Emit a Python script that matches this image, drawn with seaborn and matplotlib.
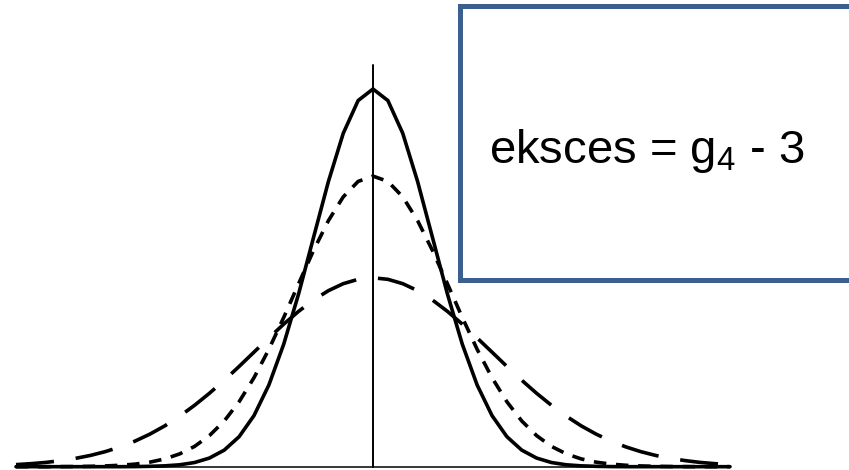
import matplotlib
matplotlib.use("Agg")
import matplotlib.pyplot as plt
from matplotlib.patches import Rectangle
import pandas as pd
import seaborn as sns

# Density values of three symmetric distributions on a common grid
x_grid = [-6.0, -5.75, -5.5, -5.25, -5.0, -4.75, -4.5, -4.25, -4.0, -3.75, -3.5, -3.25,
          -3.0, -2.75, -2.5, -2.25, -2.0, -1.75, -1.5, -1.25, -1.0, -0.75, -0.5, -0.25,
          0.0, 0.25, 0.5, 0.75, 1.0, 1.25, 1.5, 1.75, 2.0, 2.25, 2.5, 2.75,
          3.0, 3.25, 3.5, 3.75, 4.0, 4.25, 4.5, 4.75, 5.0, 5.25, 5.5, 5.75, 6.0]

peaked = [0.0, 0.0, 0.0, 0.0, 0.0, 0.0, 0.0, 0.0, 0.0001, 0.0004, 0.0009, 0.0020,
          0.0044, 0.0091, 0.0175, 0.0317, 0.0540, 0.0863, 0.1295, 0.1826, 0.2420, 0.3011, 0.3521, 0.3867,
          0.3989,
          0.3867, 0.3521, 0.3011, 0.2420, 0.1826, 0.1295, 0.0863, 0.0540, 0.0317, 0.0175, 0.0091, 0.0044,
          0.0020, 0.0009, 0.0004, 0.0001, 0.0, 0.0, 0.0, 0.0, 0.0, 0.0, 0.0, 0.0]

medium = [0.0, 0.0, 0.0, 0.0001, 0.0002, 0.0004, 0.0008, 0.0015, 0.0027, 0.0048, 0.0082, 0.0135,
          0.0214, 0.0328, 0.0483, 0.0686, 0.0940, 0.1240, 0.1577, 0.1933, 0.2283, 0.2598, 0.2850, 0.3013,
          0.3069,
          0.3013, 0.2850, 0.2598, 0.2283, 0.1933, 0.1577, 0.1240, 0.0940, 0.0686, 0.0483, 0.0328, 0.0214,
          0.0135, 0.0082, 0.0048, 0.0027, 0.0015, 0.0008, 0.0004, 0.0002, 0.0001, 0.0, 0.0, 0.0]

flat = [0.0022, 0.0032, 0.0045, 0.0064, 0.0088, 0.0119, 0.0159, 0.0209, 0.0270, 0.0344, 0.0431, 0.0533,
        0.0648, 0.0775, 0.0913, 0.1059, 0.1210, 0.1360, 0.1506, 0.1641, 0.1760, 0.1859, 0.1933, 0.1979,
        0.1995,
        0.1979, 0.1933, 0.1859, 0.1760, 0.1641, 0.1506, 0.1360, 0.1210, 0.1059, 0.0913, 0.0775, 0.0648,
        0.0533, 0.0431, 0.0344, 0.0270, 0.0209, 0.0159, 0.0119, 0.0088, 0.0064, 0.0045, 0.0032, 0.0022]

label_main = "eksces = g$_4$ - 3"

sns.set_style("white")
plt.rcParams["font.family"] = ["Liberation Sans", "DejaVu Sans"]
plt.rcParams["mathtext.default"] = "regular"
plt.rcParams["lines.scale_dashes"] = False

df = pd.concat([
    pd.DataFrame({"x": x_grid, "density": peaked, "shape": "peaked"}),
    pd.DataFrame({"x": x_grid, "density": medium, "shape": "medium"}),
    pd.DataFrame({"x": x_grid, "density": flat, "shape": "flat"}),
], ignore_index=True)

fig = plt.figure(figsize=(8.49, 4.70), dpi=100)
ax = fig.add_axes([0, 0, 1, 1])

sns.lineplot(data=df, x="x", y="density", style="shape",
             dashes={"peaked": "", "medium": (9.0, 7.0), "flat": (27.4, 15.8)},
             color="black", linewidth=2.6, legend=False, sort=False,
             estimator=None, ax=ax)

# horizontal base and central axis of symmetry
ax.plot([-6, 6], [0, 0], color="black", linewidth=1.1)
ax.plot([0, 0], [0, 0.4243], color="black", linewidth=1.4)

ax.set_xlim(-6.269, 8.0)
ax.set_ylim(-0.00349, 0.4929)
ax.axis("off")

# framed annotation
box = Rectangle((460 / 849, 190.5 / 470), 600 / 849, 273.5 / 470,
                transform=fig.transFigure, facecolor="white",
                edgecolor="#3C5F8F", linewidth=3.6, zorder=5)
fig.patches.append(box)
fig.text(489 / 849, (470 - 163) / 470, label_main, fontsize=34,
         color="black", ha="left", va="baseline", zorder=6)

fig.savefig("out.png", dpi=100)
